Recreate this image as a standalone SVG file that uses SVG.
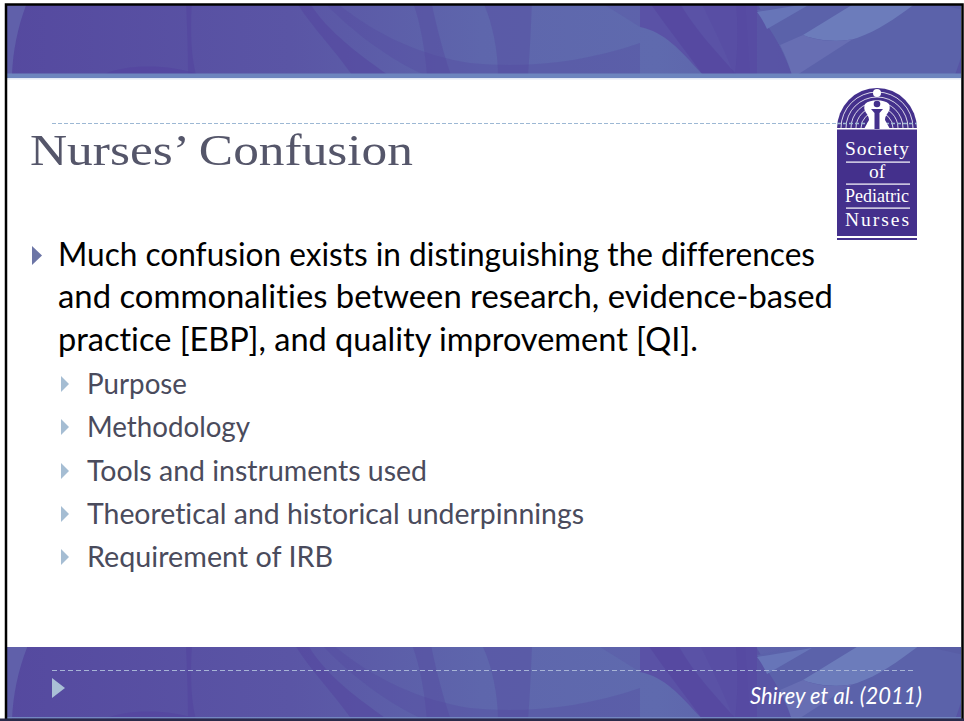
<svg xmlns="http://www.w3.org/2000/svg" width="964" height="721" viewBox="0 0 964 721">
<style>
text{font-variant-ligatures:none}
.b{font-family:"Lato","Noto Sans",sans-serif;font-size:33.500px;fill:#000}
.s{font-family:"Lato","Noto Sans",sans-serif;font-size:28px;fill:#4a4b5c}
.l{font-family:"Liberation Serif",serif;fill:#fff;text-anchor:middle;font-size:19.500px}
.m{fill:#54459f}
</style>
<defs>
<linearGradient id="g" x1="0" x2="1" y1="0" y2="0"><stop offset="0" stop-color="#55499f"/><stop offset=".3" stop-color="#5a55a5"/><stop offset=".5" stop-color="#5e66ac"/><stop offset=".68" stop-color="#5f6aae"/><stop offset=".85" stop-color="#5c5fa9"/><stop offset="1" stop-color="#5a5aa6"/></linearGradient>
<clipPath id="c1"><rect x="6" y="5" width="955" height="69"/></clipPath>
<clipPath id="c2"><rect x="6" y="647" width="955" height="72"/></clipPath>
<g id="art">
<rect x="0" y="0" width="964" height="75" fill="url(#g)"/>
<path d="M0 0H28C18 25 13 50 12 75H0Z" fill="#6060aa"/>
<path d="M186 0H192C190 30 191 55 196 75H188C188 50 187 25 186 0Z" class="m" opacity=".6"/>
<path d="M105 74C125 64 170 64 197 74Z" class="m" opacity=".7"/>
<path d="M295 0H308C325 30 360 55 388 75H352C335 50 310 25 295 0Z" class="m" opacity=".55"/>
<path d="M322 0H333C375 35 420 55 470 63C520 68 580 64 640 43V75H425C390 60 350 30 322 0Z" class="m" opacity=".3"/>
<path d="M412 0H431C436 25 444 55 451 75H427C425 50 420 20 412 0Z" class="m" opacity=".35"/>
<path d="M482 0H532C531 25 530 50 528 75H498C498 50 492 20 482 0Z" class="m" opacity=".35"/>
<path d="M597 0H640V27Z" class="m" opacity=".2"/>
<path d="M640 0H757V75H703C680 50 665 32 640 27Z" fill="#5a52a6"/>
<path d="M648 0H678C695 30 715 50 737 75H703C685 50 665 25 648 0Z" class="m" opacity=".6"/>
<path d="M700 0H745L750 75H734C725 50 712 25 700 0Z" class="m" opacity=".25"/>
<path d="M736 0H755C770 25 785 55 792 75H735C738 50 738 25 736 0Z" class="m" opacity=".5"/>
<path d="M757 10L812 0H964V75H792C785 50 770 30 757 10Z" fill="#5b62aa"/>
<path d="M757 12L812 3L767 29C764 22 760 16 757 12Z" fill="#6775b8"/>
<path d="M803 35L860 0H920C900 15 880 30 857 38C845 42 820 42 803 35Z" fill="#6c7cbb"/>
<path d="M780 45L803 35C820 42 840 42 853 39L797 75H792C788 62 785 55 780 45Z" fill="#676eb3"/>
<path d="M920 0H964V10Z" fill="#55579f" opacity=".5"/>
<path d="M955 75L962 55V75Z" class="m" opacity=".5"/>
</g>
</defs>
<rect width="964" height="721" fill="#fff"/>
<g id="top-band" clip-path="url(#c1)"><use href="#art"/></g>
<rect x="6" y="73.500" width="955" height="4.500" fill="#6d85be"/>
<rect x="6" y="78" width="955" height="1.500" fill="#e4eaf5"/>
<g id="bottom-band" clip-path="url(#c2)"><use href="#art" transform="translate(0 645)"/></g>
<rect x="6" y="717" width="955" height="1.500" fill="#7387c0"/>
<path d="M6 721V4.500H962.500V721" fill="none" stroke="#000" stroke-width="2.500"/>
<path d="M0 719.700H964" stroke="#2a2a4a" stroke-width="2.600"/>
<g id="connectors" fill="none">
<line x1="52" y1="123.500" x2="838" y2="123.500" stroke="#9db8d4" stroke-width="1" stroke-dasharray="4 2"/>
<line x1="52" y1="670.500" x2="915" y2="670.500" stroke="#a7b4d6" stroke-width="1" stroke-dasharray="5 3"/>
</g>
<text id="title" x="30" y="165" font-family="Liberation Serif,serif" font-size="45" fill="#55566a" textLength="383" lengthAdjust="spacingAndGlyphs">Nurses’ Confusion</text>
<g id="body">
<path d="M32 246l10 9.500l-10 9.500z" fill="#6c75a6"/>
<text class="b" x="58" y="266" textLength="757" lengthAdjust="spacingAndGlyphs">Much confusion exists in distinguishing the differences</text>
<text class="b" x="58" y="308" textLength="775" lengthAdjust="spacingAndGlyphs">and commonalities between research, evidence-based</text>
<text class="b" x="58" y="351" textLength="640" lengthAdjust="spacingAndGlyphs">practice [EBP], and quality improvement [QI].</text>
<g fill="#a5bdd3">
<path d="M61 376l8 8l-8 8z"/><path d="M61 419l8 8l-8 8z"/><path d="M61 463l8 8l-8 8z"/><path d="M61 506l8 8l-8 8z"/><path d="M61 549l8 8l-8 8z"/>
</g>
<text class="s" x="87" y="394" textLength="100" lengthAdjust="spacingAndGlyphs">Purpose</text>
<text class="s" x="87" y="437" textLength="163" lengthAdjust="spacingAndGlyphs">Methodology</text>
<text class="s" x="87" y="481" textLength="340" lengthAdjust="spacingAndGlyphs">Tools and instruments used</text>
<text class="s" x="87" y="524" textLength="497" lengthAdjust="spacingAndGlyphs">Theoretical and historical underpinnings</text>
<text class="s" x="87" y="567" textLength="246" lengthAdjust="spacingAndGlyphs">Requirement of IRB</text>
</g>
<g id="footer">
<path d="M52 678l13 10l-13 10z" fill="#a9c0d6"/>
<text x="750" y="704" font-family="Lato,Noto Sans,sans-serif" font-style="italic" font-size="24" fill="#fff" textLength="172" lengthAdjust="spacingAndGlyphs">Shirey et al. (2011)</text>
</g>
<g id="logo">
<path d="M837 129A40 41 0 0 1 917 129Z" fill="#44308c"/>
<rect x="837" y="129.500" width="80" height="106.500" fill="#44308c"/>
<g fill="none" stroke="#fff" stroke-width=".8">
<path d="M841 128A36 36 0 0 1 913 128"/><path d="M846 128A31 31 0 0 1 908 128"/><path d="M851 128A26 26 0 0 1 903 128"/><path d="M856 128A21 21 0 0 1 898 128"/><path d="M861 128A16 16 0 0 1 893 128"/>
<path d="M837 128.500H866M888 128.500H917" stroke-width="1"/>
</g>
<path d="M837 123.500H917" stroke="#9db8d4" stroke-width="1.500" stroke-dasharray="4 2"/>
<circle cx="877" cy="93" r="4" fill="#fff"/>
<path d="M865 104C870 99 884 99 889 104C892 112 885 113 885 120L890 129H864L869 120C869 113 862 112 865 104Z" fill="#fff"/>
<circle cx="877" cy="104" r="3.300" fill="#44308c"/>
<path d="M871 109H883L879.500 113V129H874.500V113Z" fill="#44308c"/>
<text class="l" x="877" y="155" textLength="64">Society</text>
<rect x="846" y="161.500" width="64" height="1.200" fill="#fff"/>
<text class="l" x="877" y="178">of</text>
<rect x="846" y="183.500" width="64" height="1.200" fill="#fff"/>
<text class="l" x="877" y="202" textLength="64" lengthAdjust="spacingAndGlyphs">Pediatric</text>
<rect x="846" y="207.500" width="64" height="1.200" fill="#fff"/>
<text class="l" x="877" y="226" textLength="64">Nurses</text>
<rect x="837" y="238" width="80" height="2" fill="#44308c"/>
</g>
</svg>
